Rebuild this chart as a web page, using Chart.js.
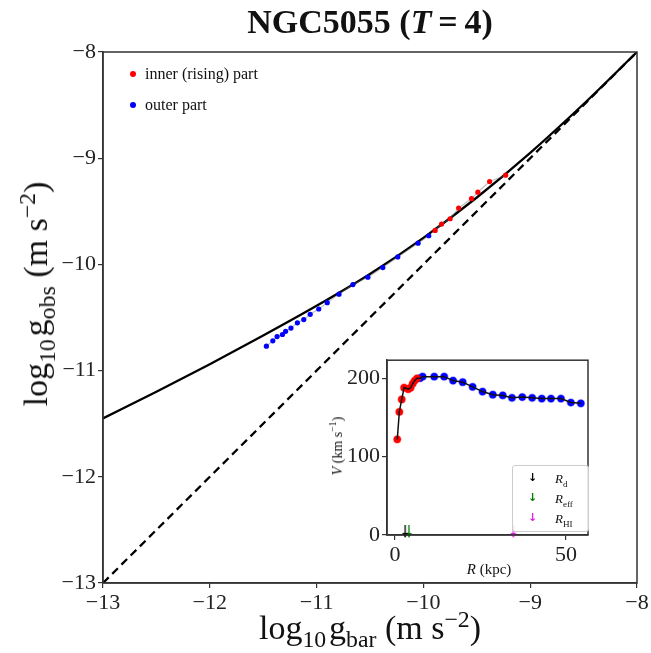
<!DOCTYPE html>
<html>
<head>
<meta charset="utf-8">
<script src="https://cdn.jsdelivr.net/npm/chart.js@4.4.1/dist/chart.umd.min.js"></script>
<style>
  body { margin: 0; background: #fff; }
  #wrap { position: relative; width: 651px; height: 653px; font-family: "Liberation Serif", "DejaVu Serif", serif; color: #111; }
  #main { position: absolute; left: 0; top: 0; }
  #inset { position: absolute; left: 330px; top: 345px; }
  .lbl { position: absolute; white-space: nowrap; line-height: 1; }
  .dot { position: absolute; width: 6px; height: 6px; border-radius: 50%; }
  sub, sup { font-size: 70%; line-height: 0; }
  #ilegend { position: absolute; left: 512px; top: 465px; width: 75px; height: 65px; border: 1px solid #ccc; border-radius: 3px; background: rgba(255,255,255,0.85); font-size: 13px; }
  #ilegend .row { position: absolute; left: 0; width: 75px; }
  #ilegend .arr { position: absolute; left: 15px; font-family: "DejaVu Sans", sans-serif; font-size: 11px; font-weight: bold; }
  #ilegend .txt { position: absolute; left: 42px; font-style: italic; }
</style>
</head>
<body>
<div id="wrap">
  <canvas id="main" width="651" height="653"></canvas>
  <canvas id="inset" width="275" height="245"></canvas>

  <div class="lbl" style="left:370px;top:5px;transform:translateX(-50%);font-size:34px;font-weight:bold;">NGC5055 (<i>T</i>&#8201;=&#8201;4)</div>
  <div class="lbl" style="left:370px;top:611px;transform:translateX(-50%);font-size:34px;">log<sub>10</sub>&#8202;g<sub>bar</sub> (m s<sup>&minus;2</sup>)</div>
  <div class="lbl" style="left:36px;top:294px;transform:translate(-50%,-50%) rotate(-90deg);font-size:34px;">log<sub>10</sub>&#8202;g<sub>obs</sub> (m s<sup>&minus;2</sup>)</div>

  <span class="dot" style="left:130px;top:71px;background:#ff0000;"></span>
  <div class="lbl" style="left:145px;top:66px;font-size:16px;">inner (rising) part</div>
  <span class="dot" style="left:130px;top:102px;background:#0000ff;"></span>
  <div class="lbl" style="left:145px;top:97px;font-size:16px;">outer part</div>

  <div class="lbl" style="left:338px;top:446px;transform:translate(-50%,-50%) rotate(-90deg);font-size:14px;"><i>V</i> (km s<sup>&minus;1</sup>)</div>
  <div class="lbl" style="left:489px;top:562px;transform:translateX(-50%);font-size:15px;"><i>R</i> (kpc)</div>

  <div id="ilegend">
    <div class="row" style="top:5px;"><span class="arr" style="color:#000;">&#8595;</span><span class="txt">R<sub style="font-style:normal">d</sub></span></div>
    <div class="row" style="top:25px;"><span class="arr" style="color:#008000;">&#8595;</span><span class="txt">R<sub style="font-style:normal">eff</sub></span></div>
    <div class="row" style="top:45px;"><span class="arr" style="color:#e020e0;">&#8595;</span><span class="txt">R<sub style="font-style:normal">HI</sub></span></div>
  </div>
</div>

<script>
// main panel: log g_bar vs log g_obs
const gbarOuter = [-11.47, -11.41, -11.37, -11.32, -11.29, -11.24, -11.18, -11.12, -11.06, -10.98,
                   -10.90, -10.79, -10.66, -10.52, -10.38, -10.24, -10.05, -9.95];
const gobsOuter = [-10.77, -10.72, -10.68, -10.66, -10.63, -10.60, -10.55, -10.52, -10.47, -10.42,
                   -10.36, -10.28, -10.19, -10.12, -10.03, -9.93, -9.80, -9.73];
const gbarInner = [-9.89, -9.83, -9.75, -9.67, -9.55, -9.49, -9.38, -9.23];
const gobsInner = [-9.68, -9.62, -9.57, -9.47, -9.38, -9.32, -9.22, -9.16];

// solid relation
const curveX = [-13, -12.5, -12, -11.5, -11, -10.5, -10, -9.5, -9, -8.5, -8];
const curveY = [-11.45, -11.20, -10.94, -10.67, -10.39, -10.09, -9.75, -9.37, -8.95, -8.49, -8.00];
// dashed 1:1 line
const unityX = [-13, -8];
const unityY = [-13, -8];
const mainTicks = [-13, -12, -11, -10, -9, -8];

// inset: rotation curve
const rInner = [0.7, 1.3, 2.0, 2.7, 3.9, 4.6, 5.2, 5.8, 6.5];
const vInner = [122, 157, 173, 188, 186, 188, 193, 197, 200];
const rOuter = [7.3, 8.1, 11.5, 14.4, 17.0, 19.8, 22.7, 25.6, 28.6, 31.5, 34.2, 37.2, 40.1, 42.9, 45.6, 48.5, 51.4, 54.3];
const vOuter = [200, 202, 202, 202, 197, 195, 189, 183, 179, 178, 175, 176, 175, 174, 174, 174, 169, 168];
const radiiNames = ['R_d', 'R_eff', 'R_HI'];
const radiiValues = [3.0, 4.1, 34.6];
const radiiColors = ['#000000', '#008000', '#e020e0'];
const insetXTicks = [0, 50];
const insetYTicks = [0, 100, 200];

const FONT = '"Liberation Serif", "DejaVu Serif", serif';
const pts = (xs, ys) => xs.map((x, i) => ({ x: x, y: ys[i] }));
const fmt = v => (v < 0 ? '\u2212' + Math.abs(v) : String(v));

const framePlugin = {
  id: 'frame',
  afterDraw(chart) {
    const a = chart.chartArea, ctx = chart.ctx;
    ctx.save();
    ctx.strokeStyle = '#333';
    ctx.lineWidth = 1.5;
    ctx.strokeRect(a.left, a.top, a.right - a.left, a.bottom - a.top);
    ctx.restore();
  }
};

function axis(min, max, tickList, fitFn, fontSize) {
  return {
    type: 'linear', min: min, max: max,
    afterBuildTicks: s => { s.ticks = tickList.map(v => ({ value: v })); },
    afterFit: fitFn,
    grid: { drawOnChartArea: false, drawTicks: true, tickLength: 5, color: '#333', lineWidth: 1.2 },
    border: { display: true, color: '#333', width: 1.5 },
    ticks: { color: '#222', font: { family: FONT, size: fontSize }, padding: 2, maxRotation: 0, callback: v => fmt(v) }
  };
}

new Chart(document.getElementById('main'), {
  type: 'scatter',
  data: {
    datasets: [
      { data: pts(gbarOuter, gobsOuter), showLine: true, borderColor: 'rgba(110,110,110,0.45)', borderWidth: 1.2,
        pointRadius: 2.6, pointBackgroundColor: '#0000ff', pointBorderWidth: 0 },
      { data: pts(gbarInner, gobsInner), showLine: true, borderColor: 'rgba(110,110,110,0.45)', borderWidth: 1.2,
        pointRadius: 2.6, pointBackgroundColor: '#ff0000', pointBorderWidth: 0 },
      { data: pts(curveX, curveY), showLine: true, borderColor: '#000', borderWidth: 2.3,
        pointRadius: 0, cubicInterpolationMode: 'monotone' },
      { data: pts(unityX, unityY), showLine: true, borderColor: '#000', borderWidth: 2.3,
        borderDash: [8, 5], pointRadius: 0 }
    ]
  },
  options: {
    responsive: false, animation: false,
    layout: { padding: { left: 0, top: 52, right: 14, bottom: 0 } },
    plugins: { legend: { display: false }, tooltip: { enabled: false } },
    scales: {
      x: axis(-13, -8, mainTicks, s => { s.height = 70; }, 22),
      y: axis(-13, -8, mainTicks, s => { s.width = 103; }, 22)
    }
  },
  plugins: [framePlugin]
});

// small down-arrow marker for the radii
function arrowImg(color) {
  const c = document.createElement('canvas');
  c.width = 8; c.height = 14;
  const g = c.getContext('2d');
  g.strokeStyle = color; g.fillStyle = color; g.lineWidth = 1.3;
  g.beginPath(); g.moveTo(4, 0); g.lineTo(4, 9); g.stroke();
  g.beginPath(); g.moveTo(1, 8); g.lineTo(7, 8); g.lineTo(4, 13); g.closePath(); g.fill();
  return c;
}

const radiiSets = radiiValues.map((r, i) => ({
  label: radiiNames[i], data: [{ x: r, y: 4 }], pointStyle: arrowImg(radiiColors[i]), clip: false
}));

new Chart(document.getElementById('inset'), {
  type: 'scatter',
  data: {
    datasets: [
      { data: pts(rInner.concat(rOuter), vInner.concat(vOuter)), showLine: true, borderColor: '#111', borderWidth: 1.5, pointRadius: 0 },
      { data: pts(rInner, vInner), pointRadius: 3.6, pointBackgroundColor: '#ff0000', pointBorderColor: 'rgba(255,0,0,0.35)', pointBorderWidth: 1.5 },
      { data: pts(rOuter, vOuter), pointRadius: 3.6, pointBackgroundColor: '#0000ff', pointBorderColor: 'rgba(0,0,255,0.35)', pointBorderWidth: 1.5 }
    ].concat(radiiSets)
  },
  options: {
    responsive: false, animation: false,
    layout: { padding: { left: 0, top: 15, right: 17, bottom: 0 } },
    plugins: { legend: { display: false }, tooltip: { enabled: false } },
    scales: {
      x: axis(-2.3, 56.4, insetXTicks, s => { s.height = 55; }, 22),
      y: axis(0, 223, insetYTicks, s => { s.width = 57; }, 22)
    }
  },
  plugins: [framePlugin]
});
</script>
</body>
</html>
